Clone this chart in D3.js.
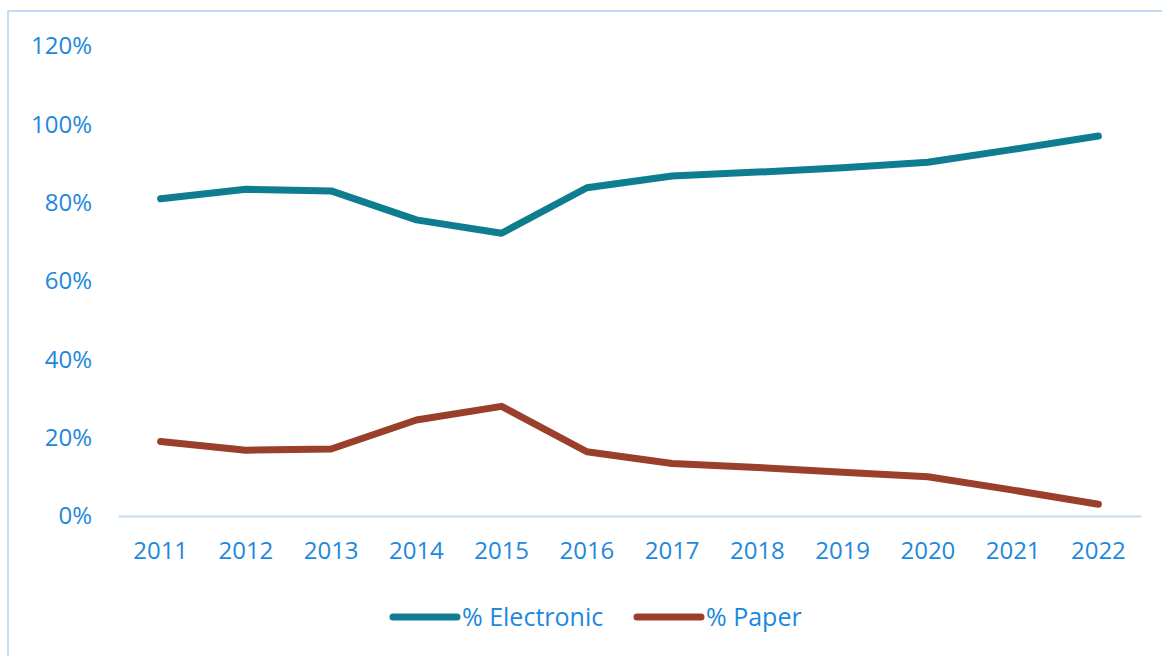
<!DOCTYPE html>
<html>
<head>
<meta charset="utf-8">
<script src="https://cdn.jsdelivr.net/npm/d3@7"></script>
<style>
  html, body { margin: 0; padding: 0; background: #fff; }
  svg { display: block; }
  text { font-family: "Open Sans", sans-serif; fill: #1E88DC; }
</style>
</head>
<body>
<svg id="chart" width="1162" height="656"></svg>
<script>
const years = ["2011","2012","2013","2014","2015","2016","2017","2018","2019","2020","2021","2022"];
const electronic = [81.0, 83.4, 83.0, 75.6, 72.2, 83.8, 86.8, 87.8, 88.9, 90.3, 93.6, 97.0];
const paper = [19.0, 16.8, 17.1, 24.5, 28.0, 16.4, 13.4, 12.4, 11.2, 10.0, 6.6, 3.0];
const yTicks = [0, 20, 40, 60, 80, 100, 120];
const seriesNames = ["% Electronic", "% Paper"];
const seriesColors = ["#0F7D90", "#993F2B"];

const svg = d3.select("#chart");

// outer border
svg.append("rect")
  .attr("x", 8).attr("y", 11)
  .attr("width", 1170).attr("height", 660)
  .attr("fill", "none").attr("stroke", "#C4DDF4").attr("stroke-width", 2);

const x = d3.scaleBand().domain(years).range([118, 1141]);
const y = d3.scaleLinear().domain([0, 120]).range([516, 46]);

// x axis
const xAxis = svg.append("g").attr("transform", "translate(0,516)")
  .call(d3.axisBottom(x).tickSize(0).tickPadding(26));
xAxis.select(".domain").attr("stroke", "#C4DDF4").attr("stroke-width", 2);
xAxis.selectAll("text").attr("font-size", 24).attr("fill", "#1E88DC")
  .attr("font-family", "Open Sans");

// y axis (labels only)
const yAxis = svg.append("g").attr("transform", "translate(92,0)")
  .call(d3.axisLeft(y).tickValues(yTicks).tickFormat(d => d + "%").tickSize(0).tickPadding(0));
yAxis.select(".domain").remove();
yAxis.selectAll("text").attr("font-size", 24).attr("fill", "#1E88DC")
  .attr("font-family", "Open Sans");

const line = d3.line()
  .x((d, i) => x(years[i]) + x.bandwidth() / 2)
  .y(d => y(d));

[electronic, paper].forEach((s, k) => {
  svg.append("path")
    .datum(s)
    .attr("d", line)
    .attr("fill", "none")
    .attr("stroke", seriesColors[k])
    .attr("stroke-width", 7)
    .attr("stroke-linecap", "round")
    .attr("stroke-linejoin", "round");
});

// legend
const legendX = [393, 637];
seriesNames.forEach((name, k) => {
  const g = svg.append("g").attr("transform", `translate(${legendX[k]},617)`);
  g.append("line").attr("x1", 0).attr("x2", 64).attr("y1", 0).attr("y2", 0)
    .attr("stroke", seriesColors[k]).attr("stroke-width", 7).attr("stroke-linecap", "round");
  g.append("text").attr("x", 69).attr("y", 0).attr("dy", "0.35em")
    .attr("font-size", 25).text(name);
});
</script>
</body>
</html>
